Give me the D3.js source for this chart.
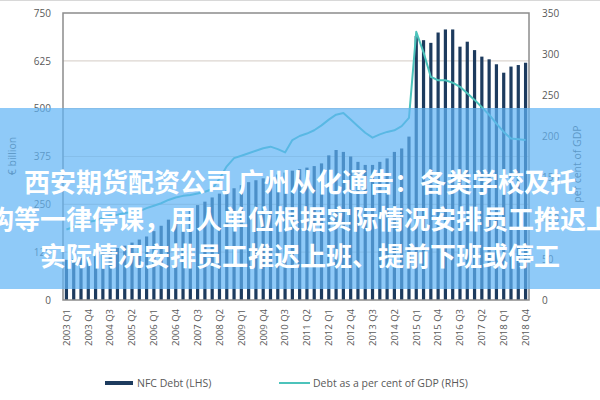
<!DOCTYPE html>
<html>
<head>
<meta charset="utf-8">
<script src="https://cdn.jsdelivr.net/npm/d3@7"></script>
<style>
  body { margin: 0; background: #fff; }
  svg { display: block; }
</style>
</head>
<body>
<div id="chart-area"></div>
<script>
const years = d3.range(2003, 2019)
const quarters = years.flatMap(y => ["Q1", "Q2", "Q3", "Q4"].map(q => `${y} Q${q.slice(1)}`))

// NFC debt, € billion (LHS)
const nfcDebt = [
  105, 107, 110, 112, 116, 121, 128, 136, 142, 150, 158, 166, 180, 194, 210, 224,
  231, 240, 248, 257, 268, 278, 286, 292, 300, 308, 313, 318, 322, 328, 333, 338,
  342, 346, 350, 357, 378, 392, 387, 375, 361, 353, 353, 361, 370, 387, 396, 427,
  690, 679, 672, 699, 707, 707, 662, 675, 653, 636, 629, 616, 594, 610, 614, 620
]

// Debt as a per cent of GDP (RHS)
const debtGdp = [
  86, 89, 92, 95, 97, 100, 103, 104, 106, 107, 108, 112, 115, 118, 122, 125,
  127, 128, 130, 132, 135, 148, 163, 173, 176, 179, 182, 185, 187, 184, 180, 195,
  200, 203, 207, 213, 220, 226, 228, 220, 212, 204, 198, 202, 205, 207, 212, 222,
  327, 302, 272, 268, 268, 265, 260, 252, 244, 235, 226, 215, 205, 197, 196, 195
]

const leftTicks = [0, 125, 250, 375, 500, 625, 750]
const rightTicks = [0, 50, 100, 150, 200, 250, 300, 350]
const xTicks = quarters.filter((d, i) => i % 3 === 0)

const bannerLines = [
  "西安期货配资公司 广州从化通告：各类学校及托",
  "构等一律停课，用人单位根据实际情况安排员工推迟上",
  "实际情况安排员工推迟上班、提前下班或停工"
]

const W = 600, H = 400
const PLOT = { LEFT: 63, RIGHT: 529, TOP: 13, BOTTOM: 300 }
const FONT = "'Open Sans', 'Noto Sans', sans-serif"
const GREY = "#595959"

const svg = d3.select("#chart-area").append("svg")
  .attr("width", W)
  .attr("height", H)
  .style("font-family", FONT)

svg.append("line")
  .attr("x1", 0).attr("x2", W).attr("y1", 0.5).attr("y2", 0.5)
  .attr("stroke", "#d8d8d8")

const x = d3.scaleBand()
  .domain(quarters)
  .range([PLOT.LEFT, PLOT.RIGHT])
  .paddingInner(0.56)
  .paddingOuter(0.25)

const yL = d3.scaleLinear().domain([0, 750]).range([PLOT.BOTTOM, PLOT.TOP])
const yR = d3.scaleLinear().domain([0, 350]).range([PLOT.BOTTOM, PLOT.TOP])

// gridlines
svg.append("g")
  .attr("class", "grid")
  .selectAll("line")
  .data(leftTicks.slice(1, -1))
  .join("line")
    .attr("x1", PLOT.LEFT).attr("x2", PLOT.RIGHT)
    .attr("y1", d => yL(d)).attr("y2", d => yL(d))
    .attr("stroke", "#dcd6d0")
    .attr("stroke-width", 1.2)

// bars
svg.append("g")
  .selectAll("rect")
  .data(nfcDebt)
  .join("rect")
    .attr("x", (d, i) => x(quarters[i]))
    .attr("width", x.bandwidth())
    .attr("y", d => yL(d))
    .attr("height", d => yL(0) - yL(d))
    .attr("fill", "#1d3b5e")

// line
const line = d3.line()
  .x((d, i) => x(quarters[i]) + x.bandwidth() / 2)
  .y(d => yR(d))

svg.append("path")
  .datum(debtGdp)
  .attr("d", line)
  .attr("fill", "none")
  .attr("stroke", "#4cc3bb")
  .attr("stroke-width", 2)
  .attr("stroke-linejoin", "round")

// plot frame
svg.append("rect")
  .attr("x", PLOT.LEFT).attr("y", PLOT.TOP)
  .attr("width", PLOT.RIGHT - PLOT.LEFT)
  .attr("height", PLOT.BOTTOM - PLOT.TOP)
  .attr("fill", "none")
  .attr("stroke", "#8c8c8c")
  .attr("stroke-width", 1.5)

// axes
const leftAxis = svg.append("g")
  .attr("transform", `translate(${PLOT.LEFT - 12}, 0)`)
  .call(d3.axisLeft(yL).tickValues(leftTicks).tickSize(0).tickPadding(0))
const rightAxis = svg.append("g")
  .attr("transform", `translate(${PLOT.RIGHT + 13}, 0)`)
  .call(d3.axisRight(yR).tickValues(rightTicks).tickSize(0).tickPadding(0))
const bottomAxis = svg.append("g")
  .attr("transform", `translate(0, ${PLOT.BOTTOM})`)
  .call(d3.axisBottom(x).tickValues(xTicks).tickSize(0))

;[leftAxis, rightAxis, bottomAxis].forEach(a => {
  a.select(".domain").remove()
  a.selectAll("text")
    .attr("fill", GREY)
    .attr("font-size", "10px")
    .attr("font-family", FONT)
})

bottomAxis.selectAll("text")
  .attr("transform", "rotate(-90)")
  .attr("text-anchor", "end")
  .attr("x", -9)
  .attr("y", 0)
  .attr("dy", "0.35em")
  .attr("font-size", "9.5px")

// axis titles
svg.append("text")
  .attr("transform", `translate(16, 156) rotate(-90)`)
  .attr("text-anchor", "middle")
  .attr("fill", GREY)
  .attr("font-size", "10.5px")
  .text("€ billion")

svg.append("text")
  .attr("transform", `translate(581, 164) rotate(-90)`)
  .attr("text-anchor", "middle")
  .attr("fill", GREY)
  .attr("font-size", "10.5px")
  .text("per cent of GDP")

// legend
const legend = svg.append("g").attr("font-size", "10.5px").attr("fill", GREY)
legend.append("rect")
  .attr("x", 105).attr("y", 381).attr("width", 28).attr("height", 4)
  .attr("fill", "#1d3b5e")
legend.append("text")
  .attr("x", 137).attr("y", 383).attr("dy", "0.35em")
  .text("NFC Debt (LHS)")
legend.append("line")
  .attr("x1", 279).attr("x2", 310).attr("y1", 383).attr("y2", 383)
  .attr("stroke", "#4cc3bb").attr("stroke-width", 2)
legend.append("text")
  .attr("x", 313).attr("y", 383).attr("dy", "0.35em")
  .text("Debt as a per cent of GDP (RHS)")

// overlay banner
svg.append("rect")
  .attr("x", 0).attr("y", 108)
  .attr("width", W).attr("height", 181)
  .attr("fill", "rgb(95,179,245)")
  .attr("opacity", 0.7)

svg.append("g")
  .selectAll("text")
  .data(bannerLines)
  .join("text")
    .attr("x", W / 2)
    .attr("y", (d, i) => 183 + i * 37)
    .attr("dy", "0.36em")
    .attr("text-anchor", "middle")
    .attr("fill", "#fff")
    .attr("font-size", "26px")
    .attr("font-weight", 700)
    .attr("font-family", "'Noto Sans CJK SC', sans-serif")
    .text(d => d)
</script>
</body>
</html>
